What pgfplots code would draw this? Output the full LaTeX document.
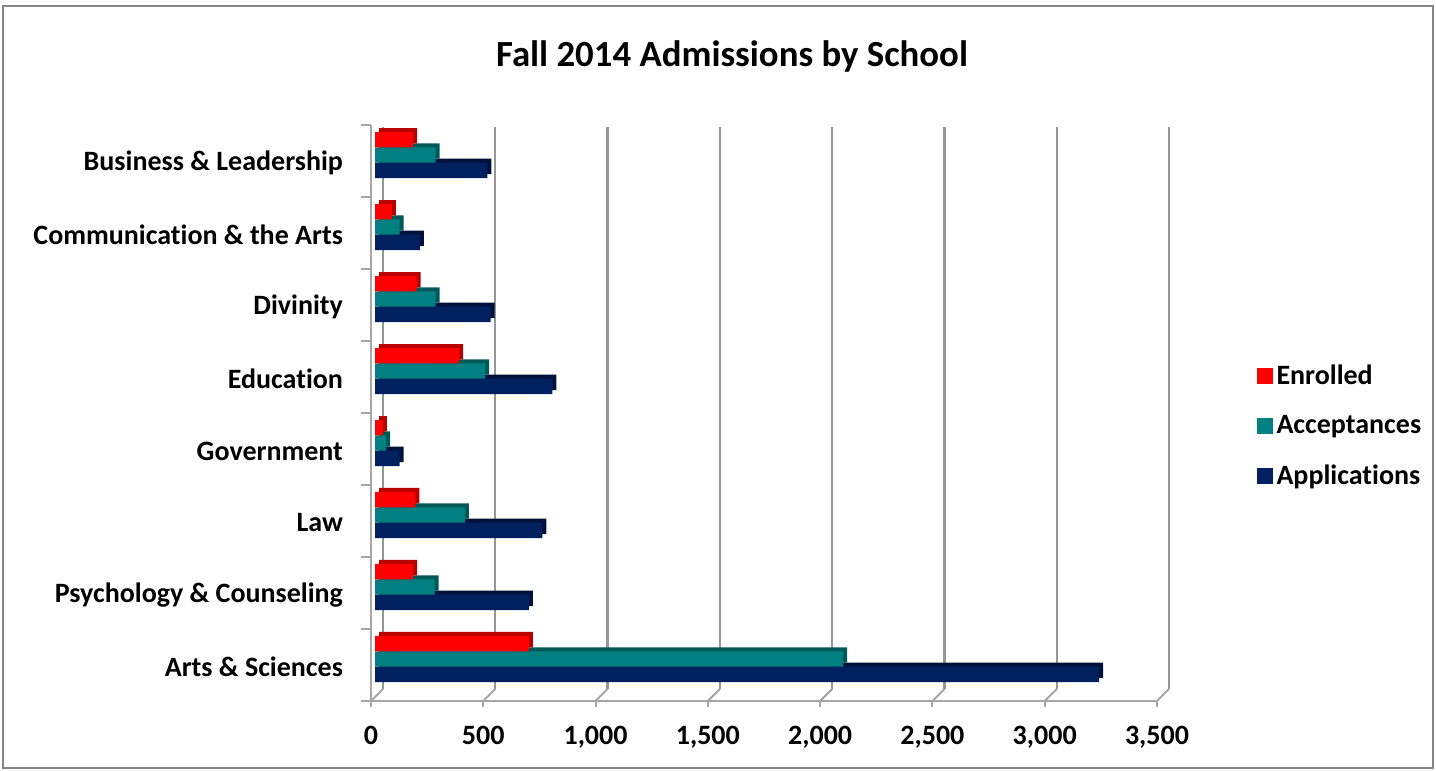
\documentclass[border=0pt]{standalone}
\usepackage{pgfplots}
\usepackage{pgfplotstable}
\pgfplotsset{compat=1.18}
\usepackage{fontspec}
\setmainfont{Carlito}[Ligatures=CommonOff]

\definecolor{enr}{RGB}{255,0,0}
\definecolor{enrside}{RGB}{185,0,0}
\definecolor{acc}{RGB}{0,128,128}
\definecolor{accside}{RGB}{0,88,88}
\definecolor{app}{RGB}{0,32,96}
\definecolor{appside}{RGB}{0,18,58}
\definecolor{gridgray}{RGB}{150,150,150}
\definecolor{axisgray}{RGB}{166,166,166}
\definecolor{framegray}{RGB}{134,134,134}

% pos 1 = Arts & Sciences ... pos 8 = Business & Leadership
\pgfplotstableread{
pos Enrolled Acceptances Applications
1 685 2085 3225
2 170 265 685
3 180 400 745
4 35 50 110
5 375 490 790
6 185 270 515
7 75 110 200
8 170 270 500
}\admissions

\newcommand{\lblfont}{\bfseries\fontsize{14}{17}\selectfont}

\begin{document}
\begin{tikzpicture}[x=1pt,y=1pt]
\path[use as bounding box] (0,0) rectangle (718,385.5);
\draw[framegray, line width=0.75pt] (1.5,1.5) rectangle (716.5,382.5);
\node[font=\bfseries\fontsize{18.4}{22}\selectfont] at (366,357.5) {Fall 2014 Admissions by School};

% bars (middle plane) with back-wall grid
\begin{axis}[
  at={(187.5pt,38pt)}, anchor=south west,
  scale only axis, width=393pt, height=288pt,
  xmin=0, xmax=3500, ymin=0.5, ymax=8.5,
  hide axis, clip=false,
  xbar, bar width=0.213,
  reverse legend,
  legend style={at={(1.121,0.467)}, anchor=west, draw=none, fill=none,
    inner sep=0pt, row sep=10pt, font=\lblfont,
    /tikz/every even column/.append style={column sep=0pt}},
  legend cell align=left,
  legend image code/.code={\fill[#1] (0pt,-4pt) rectangle (8pt,4pt);},
]
\pgfplotsinvokeforeach{0,500,...,3500}{
  \draw[gridgray, line width=1.2pt] ([shift={(4pt,3pt)}]axis cs:#1,0.5) -- ([shift={(4pt,-4pt)}]axis cs:#1,8.5);
}
\addplot[bar shift=-0.213, fill=appside, draw=none, xshift=2pt, yshift=2pt, forget plot] table[x=Applications, y=pos] {\admissions};
\addplot[bar shift=-0.213, fill=app, draw=none] table[x=Applications, y=pos] {\admissions};
\addplot[bar shift=0, fill=accside, draw=none, xshift=2pt, yshift=2pt, forget plot] table[x=Acceptances, y=pos] {\admissions};
\addplot[bar shift=0, fill=acc, draw=none] table[x=Acceptances, y=pos] {\admissions};
\addplot[bar shift=0.213, fill=enrside, draw=none, xshift=2pt, yshift=2pt, forget plot] table[x=Enrolled, y=pos] {\admissions};
\addplot[bar shift=0.213, fill=enr, draw=none] table[x=Enrolled, y=pos] {\admissions};
\legend{Applications, Acceptances, Enrolled}
\end{axis}

% front plane: axis lines, ticks and labels
\begin{axis}[
  at={(185.5pt,35pt)}, anchor=south west,
  scale only axis, width=393pt, height=288pt,
  xmin=0, xmax=3500, ymin=0.5, ymax=8.5,
  clip=false,
  axis x line*=bottom, axis y line*=left,
  axis line style={axisgray, line width=1pt},
  xtick={0,500,...,3500},
  tick align=outside, major tick length=3pt,
  xtick style={axisgray, line width=1pt},
  ytick={1,...,8}, ytick style={draw=none},
  yticklabels={Arts \& Sciences, Psychology \& Counseling, Law, Government, Education, Divinity, Communication \& the Arts, Business \& Leadership},
  ticklabel style={font=\lblfont},
  /pgf/number format/1000 sep={,},
  /pgf/number format/assume math mode=true,
  scaled x ticks=false,
  xticklabel style={yshift=-6pt},
  yticklabel style={xshift=-7.5pt, yshift=-1pt},
]
\pgfplotsinvokeforeach{0.5,1.5,...,8.5}{
  \draw[axisgray, line width=1pt] (axis cs:0,#1) -- ++(-5pt,0pt);
}
\pgfplotsinvokeforeach{0,500,...,3500}{
  \draw[axisgray, line width=1pt] (axis cs:#1,0.5) -- ++(6pt,6pt);
}
\end{axis}
\end{tikzpicture}
\end{document}
